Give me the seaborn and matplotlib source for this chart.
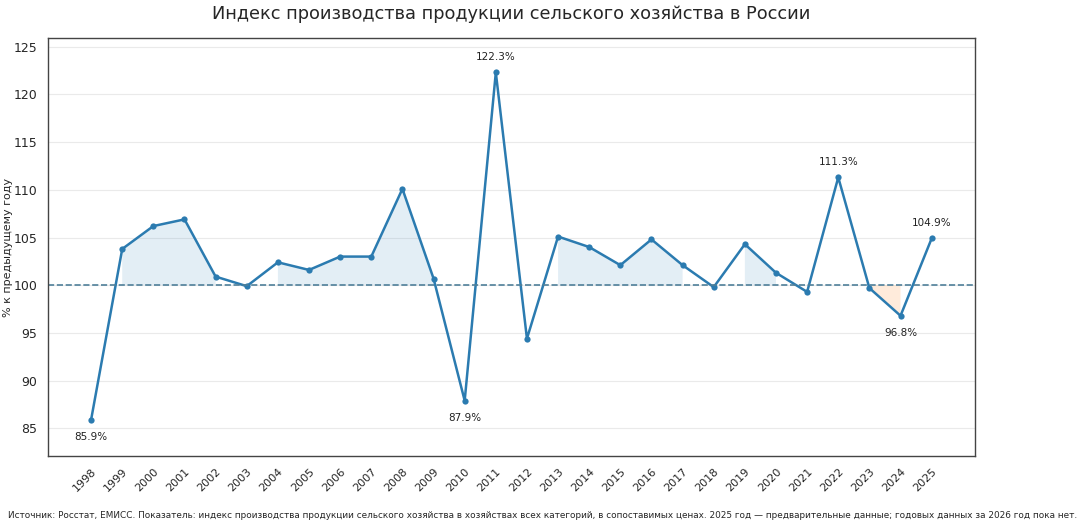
import seaborn as sns
import pandas as pd
import matplotlib.pyplot as plt

years = list(range(1998, 2026))
index_values = [85.9, 103.8, 106.2, 106.9, 100.9, 99.9, 102.4, 101.6, 103.0, 103.0,
                110.1, 100.7, 87.9, 122.3, 94.4, 105.1, 104.0, 102.1, 104.8, 102.1,
                99.8, 104.3, 101.3, 99.3, 111.3, 99.7, 96.8, 104.9]
label_years = [1998, 2010, 2011, 2022, 2024, 2025]
label_below = [1998, 2010, 2024]

df = pd.DataFrame({'Year': years, 'Index': index_values})

sns.set_style("white")
plt.rcParams['font.family'] = ['DejaVu Sans']

fig, ax = plt.subplots(figsize=(10.8, 5.29), dpi=100)
line_color = '#2b7bb0'

ax.fill_between(df['Year'], 100, df['Index'], where=df['Index'] >= 100,
                color='tab:blue', alpha=0.12, linewidth=0)
ax.fill_between(df['Year'], 100, df['Index'], where=df['Index'] < 100,
                color='tab:orange', alpha=0.15, linewidth=0)

sns.lineplot(data=df, x='Year', y='Index', ax=ax, color=line_color,
             linewidth=1.8, marker='o', markersize=4.5, markeredgewidth=0)
ax.axhline(100, color='#4f7f99', linestyle='--', linewidth=1.2)

for y, v in zip(years, index_values):
    if y in label_years:
        off = -1.8 if y in label_below else 1.6
        ax.text(y, v + off, f'{v:.1f}%', ha='center', va='center', fontsize=7.5, color='#222222')

ax.set_xlim(1996.6, 2026.4)
ax.set_ylim(82.1, 125.9)
ax.set_xticks(years)
ax.set_xticklabels([str(y) for y in years], rotation=45, ha='right',
                   rotation_mode='anchor', fontsize=8)
ax.tick_params(axis='y', labelsize=9)
ax.tick_params(axis='both', length=4, color='#444444')
ax.set_xlabel('')
ax.set_ylabel('% к предыдущему году', fontsize=8)
ax.yaxis.set_label_coords(-0.037, 0.5)
ax.grid(axis='y', color='#dddddd', alpha=0.6, linewidth=0.8)
for s in ax.spines.values():
    s.set_color('#444444')
    s.set_linewidth(1)

ax.set_title('Индекс производства продукции сельского хозяйства в России', fontsize=12.8, pad=14)
fig.text(0.007, 0.02, 'Источник: Росстат, ЕМИСС. Показатель: индекс производства продукции сельского хозяйства '
         'в хозяйствах всех категорий, в сопоставимых ценах. 2025 год — предварительные данные; '
         'годовых данных за 2026 год пока нет.', fontsize=6.4, ha='left')

fig.subplots_adjust(left=0.044, right=0.903, top=0.928, bottom=0.138)
fig.savefig('out.png', dpi=100)
